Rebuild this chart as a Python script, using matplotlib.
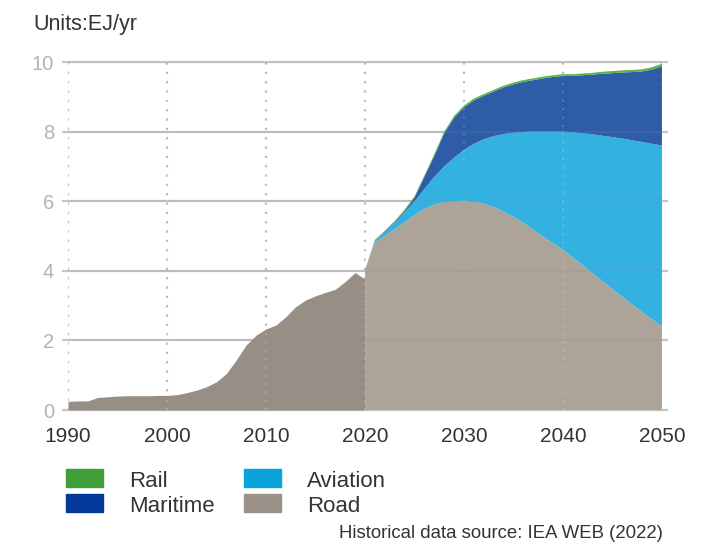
import matplotlib
matplotlib.use("Agg")
import matplotlib.pyplot as plt
from matplotlib.patches import Rectangle

plt.rcParams['font.family'] = ['Liberation Sans', 'DejaVu Sans']

# ---------------- data ----------------
hist_years = list(range(1990, 2021))
hist_road = [0.25, 0.26, 0.26, 0.36, 0.38, 0.40, 0.41, 0.41, 0.41, 0.42, 0.42,
             0.44, 0.50, 0.57, 0.67, 0.81, 1.05, 1.44, 1.87, 2.15, 2.33,
             2.44, 2.68, 2.97, 3.16, 3.28, 3.38, 3.47, 3.69, 3.95, 3.76]

proj_years = list(range(2020, 2051))
proj_road = [4.00, 4.80, 5.00, 5.20, 5.40, 5.60, 5.78, 5.90, 5.97, 6.00, 6.00,
             5.98, 5.93, 5.83, 5.70, 5.55, 5.38, 5.18, 4.98, 4.79, 4.60,
             4.38, 4.16, 3.93, 3.70, 3.47, 3.25, 3.03, 2.81, 2.60, 2.40]
proj_aviation = [0.00, 0.05, 0.10, 0.17, 0.28, 0.40, 0.57, 0.80, 1.03, 1.25, 1.47,
                 1.67, 1.85, 2.04, 2.23, 2.42, 2.61, 2.82, 3.02, 3.21, 3.40,
                 3.60, 3.79, 3.99, 4.18, 4.37, 4.55, 4.72, 4.89, 5.05, 5.20]
proj_maritime = [0.00, 0.01, 0.02, 0.03, 0.04, 0.10, 0.35, 0.60, 0.95, 1.15, 1.23,
                 1.25, 1.25, 1.28, 1.34, 1.39, 1.44, 1.48, 1.53, 1.57, 1.60,
                 1.62, 1.67, 1.72, 1.78, 1.84, 1.90, 1.96, 2.03, 2.13, 2.28]
proj_rail = [0.02, 0.03, 0.03, 0.03, 0.04, 0.04, 0.04, 0.05, 0.05, 0.05, 0.05,
             0.05, 0.05, 0.05, 0.05, 0.05, 0.05, 0.05, 0.05, 0.05, 0.05,
             0.05, 0.05, 0.05, 0.06, 0.06, 0.06, 0.06, 0.06, 0.07, 0.07]

x_ticks = [1990, 2000, 2010, 2020, 2030, 2040, 2050]
y_ticks = [0, 2, 4, 6, 8, 10]

legend_labels = ["Rail", "Maritime", "Aviation", "Road"]

# ---------------- colours ----------------
c_hist = "#978e85"
c_road = "#aca499"
c_av = "#33b1e0"
c_mar = "#2f5ca7"
c_rail = "#5bb345"
leg_colors = {"Rail": "#3f9d3a", "Maritime": "#04389a", "Aviation": "#0aa3dd", "Road": "#9a9188"}

fig = plt.figure(figsize=(7.2, 5.45), dpi=100)
ax = fig.add_axes([68/720, 1-410/545, (662-68)/720, (410-62)/545])
ax.set_xlim(1990, 2050)
ax.set_ylim(0, 10)
for s in ax.spines.values():
    s.set_visible(False)

grid_c = "#c6c6c6"
# grid under
for y in y_ticks:
    ax.axhline(y, xmin=-0.009, xmax=1.009, color=grid_c, lw=1.6, zorder=1, clip_on=False)
for x in x_ticks:
    ax.axvline(x, color="#bababa", lw=1.6, ls=(0, (1, 3.2)), zorder=1)

# fills
ax.fill_between(hist_years, 0, hist_road, color=c_hist, lw=0, zorder=2)
ax.stackplot(proj_years, proj_road, proj_aviation, proj_maritime, proj_rail,
             colors=[c_road, c_av, c_mar, c_rail], lw=0, zorder=2)

# faint grid over fills
for y in y_ticks[1:]:
    ax.axhline(y, color="#8f8f8f", lw=1.2, alpha=0.18, zorder=3)
for x in x_ticks[1:]:
    ax.axvline(x, color="#ffffff", lw=1.2, ls=(0, (1, 4)), alpha=0.25, zorder=3)

ax.set_xticks(x_ticks)
ax.set_xticklabels([str(v) for v in x_ticks], fontsize=15, color="#333333")
ax.set_yticks(y_ticks)
ax.set_yticklabels([str(v) for v in y_ticks], fontsize=14.5, color="#b3b3b3")
ax.tick_params(axis='x', length=0, pad=12.5)
ax.tick_params(axis='y', length=0, pad=10)

fig.text(33/720, 1-30/545, "Units:EJ/yr", fontsize=15.5, color="#333333", ha='left', va='baseline')

# legend
pos = {"Rail": (66, 469), "Maritime": (66, 494), "Aviation": (244, 469), "Road": (244, 494)}
for lab in legend_labels:
    px, py = pos[lab]
    fig.patches.append(Rectangle((px/720, 1-(py+18)/545), 37/720, 18/545,
                                 transform=fig.transFigure, color=leg_colors[lab]))
    fig.text((px+63)/720, 1-(py+18)/545, lab, fontsize=16, color="#333333",
             ha='left', va='baseline')

fig.text(663/720, 1-538/545, "Historical data source: IEA WEB (2022)", fontsize=13.4,
         color="#333333", ha='right', va='baseline')

fig.savefig("out.png", dpi=100)
